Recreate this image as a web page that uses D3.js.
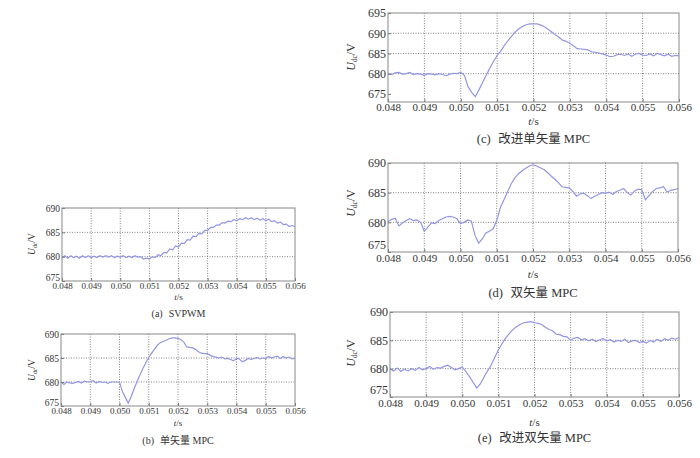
<!DOCTYPE html>
<html lang="zh">
<head>
<meta charset="utf-8">
<title>Udc 波形对比</title>
<script src="https://d3js.org/d3.v7.min.js"></script>
<style>
body { margin: 0; background: #fff; }
svg { display: block; }
.grid line { stroke: #666; stroke-width: 0.8; stroke-dasharray: 1,1.5; }
.frame { fill: none; stroke: #888; stroke-width: 1; }
.trace { fill: none; stroke: #9296e4; stroke-width: 1.2; }
text { font-family: "Liberation Serif", "Noto Sans CJK SC", serif; fill: #333; }
</style>
</head>
<body>
<script>

// sampling of the traces: 0.048 s .. 0.056 s every 0.1 ms (81 samples)
var tStart = 0.048, tStep = 0.0001;

var xTicks = [0.048, 0.049, 0.050, 0.051, 0.052, 0.053, 0.054, 0.055, 0.056];
var xTickLabels = ["0.048", "0.049", "0.050", "0.051", "0.052", "0.053", "0.054", "0.055", "0.056"];
var yTicksA = [675, 680, 685, 690];
var yTicksC = [675, 680, 685, 690, 695];

// (a) SVPWM
var udcSvpwm = [679.8,680.2,679.7,680.2,679.8,680.1,679.7,680.2,679.8,680.2,
  679.8,680.1,679.8,680.2,679.9,680.2,679.9,680.2,679.8,680.1,
  679.9,680.2,679.8,680.1,679.8,680.2,679.9,680.0,679.5,679.7,
  679.5,680.0,679.8,680.4,680.2,680.9,680.8,681.6,681.4,682.2,
  682.0,682.8,682.7,683.5,683.4,684.2,684.1,684.8,684.7,685.4,
  685.4,686.0,686.0,686.5,686.5,687.0,686.9,687.3,687.2,687.6,
  687.4,687.8,687.6,688.0,687.7,688.0,687.6,687.9,687.5,687.8,
  687.4,687.7,687.2,687.4,686.9,687.1,686.6,686.7,686.2,686.4,686.2];

// (b) 单矢量 MPC
var udcSingle = [680.0,679.5,680.0,679.8,679.7,679.9,680.1,679.8,680.2,680.0,
  680.1,680.3,679.8,680.1,679.9,680.0,679.7,680.0,680.0,680.0,
  680.0,678.0,676.8,675.6,677.0,678.6,680.1,681.5,682.8,684.0,
  685.1,686.0,686.9,687.7,688.2,688.5,688.7,689.0,689.2,689.2,
  689.1,688.8,688.3,687.3,687.2,687.1,686.8,686.3,686.0,685.9,
  685.9,685.6,685.3,685.2,685.0,685.2,684.8,684.9,684.7,684.4,
  684.9,684.8,684.2,684.5,684.9,684.7,684.9,685.1,684.8,685.0,
  684.9,685.3,685.0,685.2,685.4,684.9,685.3,685.0,685.2,684.8,684.9];

// (c) 改进单矢量 MPC
var udcSingleImp = [680.0,679.8,680.2,680.3,679.9,680.0,680.3,679.8,680.0,679.9,
  679.6,680.0,679.9,679.7,680.0,679.8,679.5,679.9,680.1,680.0,
  680.3,679.6,676.8,675.4,674.3,676.0,677.8,679.6,681.4,683.0,
  684.5,685.6,687.0,688.2,689.3,690.3,691.1,691.7,692.1,692.3,
  692.3,692.3,692.0,691.6,691.0,690.3,689.6,689.0,688.3,688.0,
  687.5,686.9,686.2,686.1,686.0,685.9,685.4,685.3,685.1,684.9,
  684.6,684.2,684.3,684.7,684.8,684.5,684.9,684.3,684.8,685.0,
  684.6,684.5,684.9,684.4,685.0,684.7,684.4,684.8,684.3,684.5,684.4];

// (d) 双矢量 MPC
var udcDouble = [680.1,680.5,680.7,679.4,679.9,680.3,680.6,680.3,680.4,680.0,
  678.5,679.2,679.9,679.8,680.3,680.6,680.9,681.0,680.9,680.6,
  679.8,680.0,680.4,680.2,677.8,676.5,677.2,678.2,678.5,678.9,
  680.3,682.5,683.8,685.2,686.5,687.5,688.2,688.7,689.1,689.5,
  689.7,689.5,689.2,688.9,688.4,687.8,687.3,686.7,686.0,685.9,
  685.8,685.2,684.4,684.8,684.9,684.5,684.0,684.4,684.7,685.0,
  684.9,685.1,684.7,685.2,685.4,685.7,685.0,684.6,685.3,685.6,
  685.5,683.8,684.5,685.2,685.7,685.8,686.0,685.1,685.4,685.5,685.7];

// (e) 改进双矢量 MPC
var udcDoubleImp = [680.0,679.6,680.1,679.5,679.9,679.6,680.0,679.7,680.2,679.8,
  680.0,680.4,679.9,680.2,680.1,680.4,680.6,680.2,679.8,680.0,
  680.3,679.5,678.6,677.6,676.6,677.3,678.5,679.6,680.6,682.0,
  683.3,684.4,685.4,686.2,686.9,687.4,687.8,688.1,688.2,688.3,
  688.1,688.0,687.8,687.3,686.9,686.7,686.1,686.0,685.7,685.6,
  685.0,685.4,685.5,685.1,685.3,684.9,685.2,684.8,685.1,685.3,
  684.9,685.1,684.7,685.0,684.8,685.2,684.6,684.9,685.0,684.6,
  684.8,684.5,685.0,684.7,685.2,684.8,685.3,685.0,685.4,685.2,685.5];

var svg = d3.select("body").append("svg")
  .attr("width", 700)
  .attr("height", 458);

// one entry per sub-figure: where it sits and how big its text is
var panels = [
  { values: udcSvpwm, tag: "(a)", name: "SVPWM", x0: 62, x1: 295, y0: 208, y1: 281,
    yDomain: [675, 690], yTicks: yTicksA, grid: [680, 685], fx: 9, fy: 9.5, pad: 2,
    tsY: 300, capY: 317, fcap: 10, ylX: 35, ylY: 244, lift: 4 },
  { values: udcSingle, tag: "(b)", name: "单矢量 MPC", x0: 61, x1: 295, y0: 334, y1: 406,
    yDomain: [675, 690], yTicks: yTicksA, grid: [680, 685], fx: 9, fy: 9.5, pad: 2,
    tsY: 426, capY: 444, fcap: 10, ylX: 35, ylY: 370, lift: 4 },
  { values: udcSingleImp, tag: "(c)", name: "改进单矢量 MPC", x0: 388, x1: 679, y0: 13, y1: 102,
    yDomain: [673, 695], yTicks: yTicksC, grid: [680, 685, 690], fx: 11, fy: 12, pad: 1.5,
    tsY: 125, capY: 143, fcap: 12.5, ylX: 355, ylY: 57, lift: 0 },
  { values: udcDouble, tag: "(d)", name: "双矢量 MPC", x0: 388, x1: 678, y0: 163, y1: 252,
    yDomain: [675, 690], yTicks: yTicksA, grid: [680, 685], fx: 11, fy: 12, pad: 2,
    tsY: 278, capY: 297, fcap: 12.5, ylX: 355, ylY: 203, lift: 7 },
  { values: udcDoubleImp, tag: "(e)", name: "改进双矢量 MPC", x0: 390, x1: 679, y0: 312, y1: 397,
    yDomain: [675, 690], yTicks: yTicksA, grid: [680, 685], fx: 11, fy: 12, pad: 2,
    tsY: 426, capY: 442, fcap: 12.5, ylX: 355, ylY: 353, lift: 7 }
];

panels.forEach(function(p) {
  var x = d3.scaleLinear().domain([0.048, 0.056]).range([p.x0, p.x1]);
  var y = d3.scaleLinear().domain(p.yDomain).range([p.y1, p.y0]);
  var g = svg.append("g");
  var cx = (p.x0 + p.x1) / 2;

  // dotted grid
  var grid = g.append("g").attr("class", "grid");
  grid.selectAll(".vx")
    .data(xTicks.slice(1, -1))
    .enter().append("line")
    .attr("x1", function(d) { return x(d); })
    .attr("x2", function(d) { return x(d); })
    .attr("y1", p.y0).attr("y2", p.y1);
  grid.selectAll(".hy")
    .data(p.grid)
    .enter().append("line")
    .attr("x1", p.x0).attr("x2", p.x1)
    .attr("y1", function(d) { return y(d); })
    .attr("y2", function(d) { return y(d); });

  // trace
  var line = d3.line()
    .x(function(d, i) { return x(tStart + i * tStep); })
    .y(function(d) { return y(d); });
  g.append("path")
    .datum(p.values)
    .attr("class", "trace")
    .attr("d", line);

  // axes with inward ticks, matlab style
  var xAxis = d3.axisBottom(x)
    .tickValues(xTicks)
    .tickSize(-3)
    .tickPadding(p.pad)
    .tickFormat(function(d, i) { return xTickLabels[i]; });
  var gx = g.append("g")
    .attr("transform", "translate(0," + p.y1 + ")")
    .call(xAxis);
  gx.select(".domain").remove();
  gx.selectAll("line").attr("stroke", "#777");
  gx.selectAll("text").attr("font-size", p.fx).attr("fill", "#333");

  var yAxis = d3.axisLeft(y)
    .tickValues(p.yTicks)
    .tickSize(-3)
    .tickPadding(2)
    .tickFormat(d3.format("d"));
  var gy = g.append("g")
    .attr("transform", "translate(" + p.x0 + ",0)")
    .call(yAxis);
  gy.select(".domain").remove();
  gy.selectAll("line").attr("stroke", "#777");
  gy.selectAll("text").attr("font-size", p.fy).attr("fill", "#333");
  // the bottom label sits a little higher so it clears the x labels
  gy.selectAll(".tick")
    .filter(function(d) { return d === p.yDomain[0]; })
    .select("text")
    .attr("y", -p.lift);

  gx.attr("font-family", null);
  gy.attr("font-family", null);

  // frame
  g.append("rect")
    .attr("class", "frame")
    .attr("x", p.x0).attr("y", p.y0)
    .attr("width", p.x1 - p.x0).attr("height", p.y1 - p.y0);

  // axis titles
  var ts = g.append("text")
    .attr("x", cx).attr("y", p.tsY)
    .attr("text-anchor", "middle")
    .attr("font-size", p.fx);
  ts.append("tspan").attr("font-style", "italic").text("t");
  ts.append("tspan").text("/s");

  var yl = g.append("text")
    .attr("transform", "translate(" + p.ylX + "," + p.ylY + ") rotate(-90)")
    .attr("text-anchor", "middle")
    .attr("font-size", p.fy);
  yl.append("tspan").attr("font-style", "italic").text("U");
  yl.append("tspan").attr("font-size", p.fy * 0.6).attr("dy", p.fy * 0.2).text("dc");
  yl.append("tspan").attr("dy", -p.fy * 0.2).text("/V");

  // caption: tag, wide gap, method name
  var cap = g.append("text")
    .attr("x", cx).attr("y", p.capY)
    .attr("text-anchor", "middle")
    .attr("font-size", p.fcap);
  cap.append("tspan").text(p.tag);
  cap.append("tspan").attr("dx", p.fcap * 0.6).text(p.name);
});

</script>
</body>
</html>
